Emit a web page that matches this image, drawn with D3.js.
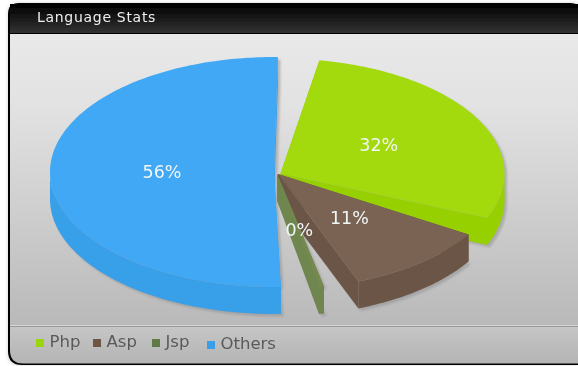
<!DOCTYPE html>
<html>
<head>
<meta charset="utf-8">
<script src="https://cdn.jsdelivr.net/npm/d3@7"></script>
<style>
html, body { margin: 0; padding: 0; background: #fff; overflow: hidden; }
svg { display: block; font-family: "DejaVu Sans", sans-serif; }
</style>
</head>
<body>
<script>
// chart values
const languages = ["Php", "Asp", "Jsp", "Others"]
const shares = [31.7, 11.49, 0.4, 56.4]
const topColors = ["#a3da10", "#7a6352", "#75894f", "#40a8f5"]
const sideColors = ["#97d006", "#6a5546", "#6f8650", "#399fe9"]
const legendColors = ["#9ad50c", "#6e5544", "#5f7a42", "#3a9eea"]
const title = "Language Stats"

const width = 578, height = 366
const cx = 277, cy = 174.5, rx = 224, ry = 115, depth = 27
const rad = Math.PI / 180

const svg = d3.select("body").append("svg")
    .attr("width", width)
    .attr("height", height)

const defs = svg.append("defs")

function vGradient(id, stops) {
    const g = defs.append("linearGradient").attr("id", id)
        .attr("x1", 0).attr("y1", 0).attr("x2", 0).attr("y2", 1)
    stops.forEach(s => g.append("stop").attr("offset", s[0]).attr("stop-color", s[1]))
}
vGradient("headGrad", [[0, "#000"], [1, "#333"]])
vGradient("bodyGrad", [[0, "#e9e9e9"], [0.25, "#e2e2e2"], [1, "#b9b9b9"]])
vGradient("footGrad", [[0, "#c6c6c6"], [1, "#b4b4b4"]])
defs.append("filter").attr("id", "soft").append("feGaussianBlur").attr("stdDeviation", 0.8)
defs.append("filter").attr("id", "edge").append("feGaussianBlur").attr("stdDeviation", 0.45)
defs.append("filter").attr("id", "glow").append("feGaussianBlur").attr("stdDeviation", 1.5)

// panel
svg.append("path")
    .attr("d", "M7,14 Q7,2 19,2 H578 V366 H20 Q7,366 7,354 Z")
    .attr("fill", "#bbb")
    .attr("opacity", 0.4)
    .attr("filter", "url(#glow)")
const frame = svg.append("g").attr("filter", "url(#edge)")
frame.append("path")
    .attr("d", "M8,14 Q8,3 19,3 H570 Q576,3 578,6 V365 H22 Q8,365 8,351 Z")
    .attr("fill", "#000")
frame.append("rect").attr("x", 10).attr("y", 4).attr("width", 568).attr("height", 29).attr("fill", "url(#headGrad)")
frame.append("rect").attr("x", 10).attr("y", 34).attr("width", 568).attr("height", 291).attr("fill", "url(#bodyGrad)")
frame.append("rect").attr("x", 10).attr("y", 325).attr("width", 568).attr("height", 1.5).attr("fill", "#d6d6d6")
frame.append("path")
    .attr("d", "M10,326.5 H578 V363.5 H23 Q10,363.5 10,350 Z")
    .attr("fill", "url(#footGrad)")

svg.append("text")
    .attr("x", 37).attr("y", 22)
    .attr("font-size", 14)
    .attr("letter-spacing", 0.7)
    .attr("fill", "#eee")
    .attr("filter", "url(#edge)")
    .text(title)

// pie angles, the gaps between slices come from padAngle
const pie = d3.pie().sort(null)
    .startAngle(5.5 * rad)
    .endAngle(365.5 * rad)
    .padAngle(9 * rad)
const arcs = pie(shares).map((d, i) => {
    const a0 = d.startAngle + d.padAngle / 2
    const a1 = d.endAngle - d.padAngle / 2
    const mid = (a0 + a1) / 2
    const explode = [4, 1.5, 1, 3][i]
    const lift = [0, -1, -1, -2.5][i]
    return {
        i, a0, a1, mid,
        ox: cx + explode * Math.sin(mid),
        oy: cy - explode * Math.cos(mid) * ry / rx + lift
    }
})

const line = d3.line()
const px = (d, a, f = 1) => d.ox + rx * f * Math.sin(a)
const py = (d, a, f = 1) => d.oy - ry * f * Math.cos(a)

function rim(d, a0, a1, off) {
    const n = Math.max(2, Math.ceil((a1 - a0) / rad))
    return d3.range(n + 1).map(k => {
        const a = a0 + (a1 - a0) * k / n
        return [px(d, a), py(d, a) + off]
    })
}

// top face
function topPath(d, off = 0) {
    return line([[d.ox, d.oy + off]].concat(rim(d, d.a0, d.a1, off))) + "Z"
}
// rounded wall, only the part turned to the viewer
function outerWall(d) {
    const a0 = Math.max(d.a0, 90 * rad), a1 = Math.min(d.a1, 270 * rad)
    if (a0 >= a1) return null
    return line(rim(d, a0, a1, 0).concat(rim(d, a0, a1, depth).reverse())) + "Z"
}
// flat wall from centre to rim
function cutWall(d, a) {
    return line([[d.ox, d.oy], [px(d, a), py(d, a)], [px(d, a), py(d, a) + depth], [d.ox, d.oy + depth]]) + "Z"
}
// whole outline of a slice with its walls, used for the shadow
function outline(d) {
    return topPath(d) + (outerWall(d) || "") + cutWall(d, d.a0) + cutWall(d, d.a1)
}

svg.append("g")
    .attr("transform", "translate(2.5,2.5)")
    .attr("filter", "url(#soft)")
    .selectAll("path")
    .data(arcs)
    .join("path")
    .attr("d", outline)
    .attr("fill", "#8f8f8f")
    .attr("opacity", 0.55)

const slices = svg.append("g").attr("filter", "url(#edge)")
    .selectAll("g")
    .data(arcs)
    .join("g")

slices.append("path")
    .attr("d", d => cutWall(d, d.a0))
    .attr("fill", d => sideColors[d.i])
slices.append("path")
    .attr("d", d => cutWall(d, d.a1))
    .attr("fill", d => sideColors[d.i])
slices.append("path")
    .attr("d", outerWall)
    .attr("fill", d => sideColors[d.i])
slices.append("path")
    .attr("d", d => topPath(d))
    .attr("fill", d => topColors[d.i])

// percent labels in the middle of each slice
svg.append("g")
    .attr("filter", "url(#edge)")
    .selectAll("text")
    .data(arcs)
    .join("text")
    .attr("x", d => px(d, d.mid, 0.5))
    .attr("y", d => py(d, d.mid, 0.5))
    .attr("dy", "0.3em")
    .attr("text-anchor", "middle")
    .attr("font-size", 17.5)
    .attr("fill", "#f2f6f6")
    .text(d => Math.round(shares[d.i]) + "%")

// legend
const legendPos = { Php: 36, Asp: 93, Jsp: 152, Others: 207 }
const legendDy = { Php: 0, Asp: 0, Jsp: 0, Others: 2 }
const legend = svg.append("g")
    .attr("filter", "url(#edge)")
    .selectAll("g")
    .data(languages)
    .join("g")
    .attr("transform", d => `translate(${legendPos[d]},${legendDy[d]})`)
legend.append("rect")
    .attr("y", 339).attr("width", 8).attr("height", 8)
    .attr("fill", (d, i) => legendColors[i])
legend.append("text")
    .attr("x", 13.5).attr("y", 347)
    .attr("font-size", 16.5)
    .attr("fill", "#5a5a5a")
    .text(d => d)
</script>
</body>
</html>
